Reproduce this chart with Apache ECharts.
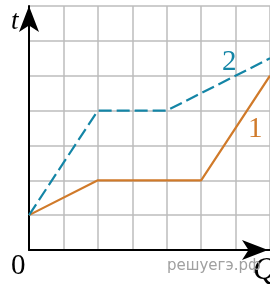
<!DOCTYPE html>
<html>
<head>
<meta charset="utf-8">
<script src="https://cdn.jsdelivr.net/npm/echarts@6/dist/echarts.min.js"></script>
<style>
  body { margin: 0; background: #fff; }
  #chart { width: 270px; height: 286px; }
</style>
</head>
<body>
<div id="chart"></div>
<script>
// line 1 (orange, solid) and line 2 (blue, dashed): [Q, t]
var q1 = [0, 2, 5, 7];
var t1 = [1, 2, 2, 5];
var q2 = [0, 2, 4, 7];
var t2 = [1, 4, 4, 5.5];
var lineNames = ['1', '2'];

function pairs(xs, ys) {
  return xs.map(function (x, i) { return [x, ys[i]]; });
}

function txt(s, x, y, size, color, italic, family) {
  return {
    type: 'text', left: x, top: y,
    style: {
      text: s, fontSize: size, fill: color,
      fontStyle: italic ? 'italic' : 'normal',
      fontFamily: family || 'Liberation Serif'
    }
  };
}

var chart = echarts.init(document.getElementById('chart'));
chart.setOption({
  animation: false,
  grid: { left: 29, top: 6, width: 243, height: 244 },
  xAxis: {
    type: 'value', min: 0, max: 7, interval: 1,
    axisLine: { lineStyle: { color: '#000', width: 2 }, symbol: ['none', 'arrow'], symbolSize: [15, 26], symbolOffset: [0, -2] },
    axisTick: { show: false },
    axisLabel: { show: false },
    splitLine: { lineStyle: { color: '#bdbdbd', width: 1.5 } }
  },
  yAxis: {
    type: 'value', min: 0, max: 7, interval: 1,
    axisLine: { show: true, lineStyle: { color: '#000', width: 2 }, symbol: ['none', 'arrow'], symbolSize: [15, 26], symbolOffset: [0, 0] },
    axisTick: { show: false },
    axisLabel: { show: false },
    splitLine: { lineStyle: { color: '#bdbdbd', width: 1.5 } }
  },
  series: [
    {
      name: lineNames[0], type: 'line', data: pairs(q1, t1), symbol: 'none',
      lineStyle: { color: '#d07a2a', width: 2.2 }, z: 3
    },
    {
      name: lineNames[1], type: 'line', data: pairs(q2, t2), symbol: 'none',
      lineStyle: { color: '#1485a6', width: 2.2, type: [13, 5] }, z: 4
    }
  ],
  graphic: [
    txt('t', 11, 8, 27, '#000', true),
    txt('0', 11, 252, 29, '#000', false),
    txt('Q', 253, 255, 32, '#000', true),
    txt('решуегэ.рф', 167, 259, 15, '#a0a0a0', false, 'DejaVu Sans'),
    txt(lineNames[1], 222, 48, 29, '#1485a6', false),
    txt(lineNames[0], 248, 115, 29, '#d07a2a', false)
  ]
});
</script>
</body>
</html>
